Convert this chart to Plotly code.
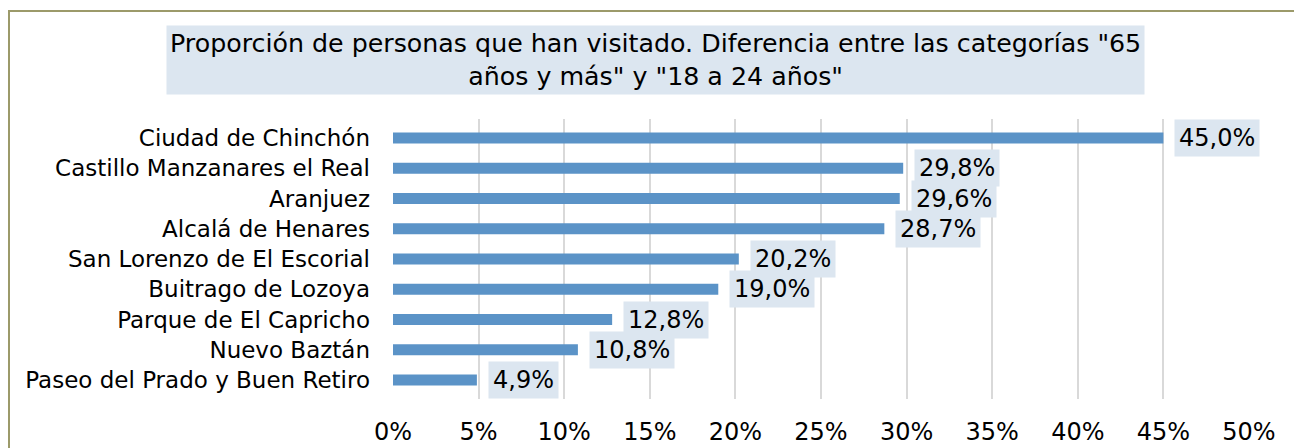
import plotly.graph_objects as go

categories = [
    "Ciudad de Chinchón",
    "Castillo Manzanares el Real",
    "Aranjuez",
    "Alcalá de Henares",
    "San Lorenzo de El Escorial",
    "Buitrago de Lozoya",
    "Parque de El Capricho",
    "Nuevo Baztán",
    "Paseo del Prado y Buen Retiro",
]
values = [45.0, 29.8, 29.6, 28.7, 20.2, 19.0, 12.8, 10.8, 4.9]
tick_vals = [0, 5, 10, 15, 20, 25, 30, 35, 40, 45, 50]
tick_text = [f"{v}%" for v in tick_vals]
title_text = ('Proporción de personas que han visitado. Diferencia entre las categorías "65'
              '<br>años y más" y "18 a 24 años"')

FONT = "DejaVu Sans, Verdana, sans-serif"
LABEL_BG = "#dce6f0"

# plot-area geometry in figure pixels (page body adds an offset)
L, R, T, B = 385, 61, 111, 57
PW, PH = 1302 - L - R, 448 - T - B

fig = go.Figure()
fig.add_trace(go.Bar(
    x=values, y=categories, orientation="h",
    marker=dict(color="#5b93c7", line=dict(width=0)),
    width=0.36, hoverinfo="skip",
))

for c, v in zip(categories, values):
    fig.add_annotation(
        x=v, y=c, xref="x", yref="y",
        text=f"{v:.1f}%".replace(".", ","),
        showarrow=False, xanchor="left", yanchor="middle",
        xshift=11, bgcolor=LABEL_BG, borderpad=4,
        font=dict(family=FONT, size=24, color="#000000"),
    )

fig.add_annotation(
    x=(655 - 8 - L) / PW, y=(448 - B - 51.5) / PH, xref="paper", yref="paper",
    text=title_text, showarrow=False, xanchor="center", yanchor="middle",
    bgcolor=LABEL_BG, borderpad=3, align="center",
    font=dict(family=FONT, size=25.3, color="#000000"),
)

# outer frame
fig.add_shape(
    type="rect", xref="paper", yref="paper",
    x0=(1 - L) / PW, x1=(1291 - L) / PW,
    y0=-0.3, y1=(448 - B - 3) / PH,
    line=dict(color="#9c9a6a", width=2), fillcolor="rgba(0,0,0,0)", layer="below",
)

fig.update_layout(
    width=1302, height=448,
    margin=dict(l=L, r=R, t=T, b=B),
    paper_bgcolor="white", plot_bgcolor="white",
    showlegend=False,
    font=dict(family=FONT, size=24, color="#000000"),
    bargap=0.64,
)
fig.update_xaxes(
    range=[0, 50], tickvals=tick_vals, ticktext=tick_text,
    showgrid=True, gridcolor="#d9d9d9", gridwidth=2,
    zeroline=False, showline=False, ticks="", ticklabelstandoff=16,
    tickfont=dict(family=FONT, size=24, color="#000000"), automargin=False,
)
fig.update_yaxes(
    autorange="reversed", showgrid=False, zeroline=False,
    showline=False, ticks="", ticklabelstandoff=22,
    tickfont=dict(family=FONT, size=23, color="#000000"), automargin=False,
)

fig.write_html("out.html")
